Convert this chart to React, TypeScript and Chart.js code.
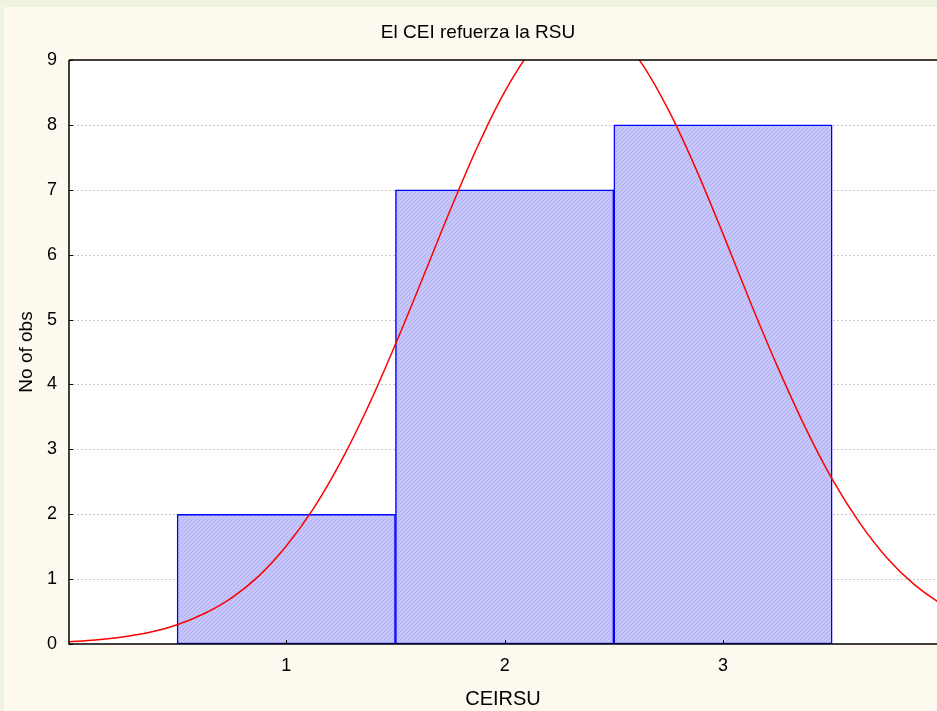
import React, { useEffect, useRef } from "react";
import { Chart, registerables } from "chart.js";

Chart.register(...registerables);

const chartTitle = "El CEI refuerza la RSU";
const xTitle = "CEIRSU";
const yTitle = "No of obs";
const categories = [1, 2, 3];
const counts = [2, 7, 8];
const yGridValues = [1, 2, 3, 4, 5, 6, 7, 8];
const curveX = [
  0, 0.125, 0.25, 0.375, 0.5, 0.625, 0.75, 0.875, 1, 1.125, 1.25, 1.375, 1.5, 1.625, 1.75, 1.875,
  2, 2.125, 2.25, 2.375, 2.5, 2.625, 2.75, 2.875, 3, 3.125, 3.25, 3.375, 3.5, 3.625, 3.75, 3.875,
  4, 4.125,
];
const curveY = [
  0.035, 0.063, 0.108, 0.18, 0.296, 0.47, 0.712, 1.05, 1.51, 2.09, 2.81, 3.66, 4.62, 5.64, 6.68, 7.66,
  8.51, 9.16, 9.55, 9.65, 9.45, 8.96, 8.23, 7.33, 6.32, 5.27, 4.27, 3.35, 2.54, 1.87, 1.33, 0.92,
  0.62, 0.4,
];

const FONT = "'Liberation Sans', Arial, sans-serif";

export default function App() {
  const ref = useRef<HTMLCanvasElement>(null);

  useEffect(() => {
    document.body.style.margin = "0";
    const canvas = ref.current!;
    const ctx = canvas.getContext("2d")!;

    const pc = document.createElement("canvas");
    pc.width = 4;
    pc.height = 4;
    const p = pc.getContext("2d")!;
    p.fillStyle = "#c6c6fa";
    p.fillRect(0, 0, 4, 4);
    p.fillStyle = "#b0b0f0";
    for (let i = 0; i < 4; i++) p.fillRect(i, 3 - i, 1, 1);
    const pattern = ctx.createPattern(pc, "repeat")!;

    const deco = {
      id: "deco",
      beforeDraw(chart: any) {
        const c = chart.ctx;
        const { width, height } = chart;
        const a = chart.chartArea;
        c.save();
        c.fillStyle = "#eef3df";
        c.fillRect(0, 0, width, height);
        c.fillStyle = "#fdf9ee";
        c.fillRect(4, 7, width - 4, height - 7);
        c.fillStyle = "#ffffff";
        c.fillRect(a.left, a.top, a.right - a.left, a.bottom - a.top);
        c.fillStyle = "#000";
        c.font = `19px ${FONT}`;
        c.textAlign = "center";
        c.textBaseline = "alphabetic";
        c.fillText(chartTitle, 478, 38);
        c.restore();
      },
      beforeDatasetsDraw(chart: any) {
        const c = chart.ctx;
        const a = chart.chartArea;
        const ys = chart.scales.y;
        c.save();
        c.strokeStyle = "#c8c8c8";
        c.lineWidth = 1;
        c.setLineDash([2, 2]);
        for (const v of yGridValues) {
          const y = Math.round(ys.getPixelForValue(v)) + 0.5;
          c.beginPath();
          c.moveTo(a.left, y);
          c.lineTo(a.right, y);
          c.stroke();
        }
        c.restore();
      },
      afterDatasetsDraw(chart: any) {
        const c = chart.ctx;
        const a = chart.chartArea;
        const ys = chart.scales.y;
        const xs = chart.scales.x;
        c.save();
        c.strokeStyle = "#000";
        c.lineWidth = 1.5;
        c.beginPath();
        c.moveTo(a.left, a.top);
        c.lineTo(a.right, a.top);
        c.moveTo(a.left, a.top);
        c.lineTo(a.left, a.bottom);
        c.lineTo(a.right, a.bottom);
        c.stroke();
        c.lineWidth = 1;
        c.beginPath();
        for (let v = 0; v <= 9; v++) {
          const y = Math.round(ys.getPixelForValue(v)) + 0.5;
          c.moveTo(a.left, y);
          c.lineTo(a.left + 4, y);
        }
        for (const v of categories) {
          const x = Math.round(xs.getPixelForValue(v)) + 0.5;
          c.moveTo(x, a.bottom);
          c.lineTo(x, a.bottom - 4);
        }
        c.stroke();
        c.restore();
      },
    };

    const chart = new Chart(ctx, {
      type: "bar",
      data: {
        datasets: [
          {
            type: "line",
            data: curveX.map((x, i) => ({ x, y: curveY[i] })),
            borderColor: "#ff0000",
            borderWidth: 1.5,
            pointRadius: 0,
            cubicInterpolationMode: "monotone",
            fill: false,
            order: 0,
          } as any,
          {
            type: "bar",
            data: categories.map((x, i) => ({ x, y: counts[i] })),
            backgroundColor: pattern,
            borderColor: "#0000ff",
            borderWidth: 1.5,
            borderSkipped: false,
            barPercentage: 1,
            categoryPercentage: 1,
            order: 1,
          } as any,
        ],
      },
      options: {
        responsive: false,
        animation: false,
        layout: { padding: { top: 60, left: 0, right: 0, bottom: 0 } },
        plugins: {
          legend: { display: false },
          tooltip: { enabled: false },
          title: { display: false },
        },
        scales: {
          x: {
            type: "linear",
            offset: false,
            bounds: "data",
            min: 0.005,
            max: 3.98,
            afterBuildTicks: (s: any) => {
              s.ticks = categories.map((v) => ({ value: v }));
            },
            afterFit: (s: any) => {
              s.height = 67;
            },
            ticks: {
              font: { family: FONT, size: 18 },
              color: "#000",
              padding: 11,
              autoSkip: false,
              maxRotation: 0,
              callback: (v: any) => String(v),
            },
            grid: { display: false, drawTicks: false, offset: false },
            border: { display: false },
            title: {
              display: true,
              text: xTitle,
              color: "#000",
              font: { family: FONT, size: 20 },
              padding: { top: 0, bottom: 0 },
            },
          },
          y: {
            type: "linear",
            min: 0,
            max: 9,
            afterFit: (s: any) => {
              s.width = 69;
            },
            ticks: {
              stepSize: 1,
              font: { family: FONT, size: 18 },
              color: "#000",
              padding: 12,
            },
            grid: { display: false, drawTicks: false },
            border: { display: false },
            title: {
              display: true,
              text: yTitle,
              color: "#000",
              font: { family: FONT, size: 19 },
              padding: { top: 15, bottom: 0 },
            },
          },
        },
      },
      plugins: [deco],
    } as any);

    return () => chart.destroy();
  }, []);

  return <canvas ref={ref} width={937} height={711} style={{ display: "block", width: 937, height: 711 }} />;
}
